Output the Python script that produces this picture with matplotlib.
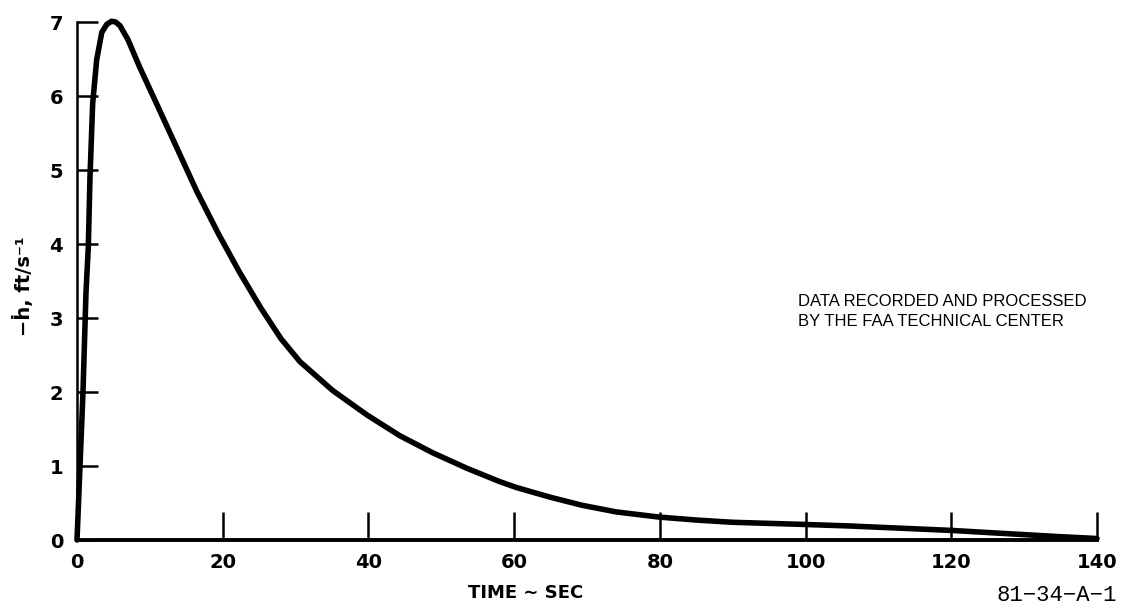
import matplotlib
matplotlib.use('Agg')
import matplotlib.pyplot as plt

# Data
time_sec = [0, 0.41, 0.82, 1.23, 1.55, 1.78, 2.15, 2.7, 3.4, 4.1, 4.75, 5.3, 5.9,
            7.0, 8.6, 10.9, 13.7, 16.4, 19.4, 22.3, 25.2, 28.0, 30.6, 35.1,
            39.8, 44.3, 48.8, 53.5, 58.0, 60.3, 64.9, 69.3, 74.0, 79.9, 85.0,
            89.9, 100, 106, 120, 134, 140]
sink_rate = [0, 1.0, 2.0, 3.34, 3.96, 4.9, 5.9, 6.49, 6.86, 6.97, 7.01, 7.0, 6.95,
             6.76, 6.39, 5.9, 5.3, 4.72, 4.14, 3.62, 3.14, 2.72, 2.41, 2.02,
             1.69, 1.41, 1.18, 0.97, 0.79, 0.71, 0.58, 0.47, 0.38, 0.31, 0.27,
             0.24, 0.21, 0.19, 0.13, 0.05, 0.02]
x_ticks = [0, 20, 40, 60, 80, 100, 120, 140]
y_ticks = [0, 1, 2, 3, 4, 5, 6, 7]

fig = plt.figure(figsize=(11.21, 6.08), dpi=100)
ax = fig.add_axes([0.0687, 0.1118, 0.9099, 0.852])

ax.plot(time_sec, sink_rate, color='black', linewidth=4.0, solid_capstyle='round',
        solid_joinstyle='round', clip_on=False)

ax.set_xlim(0, 140)
ax.set_ylim(0, 7)

for side in ['top', 'right']:
    ax.spines[side].set_visible(False)
ax.spines['left'].set_linewidth(1.8)
ax.spines['bottom'].set_linewidth(2.8)

ax.set_xticks(x_ticks)
ax.set_yticks(y_ticks)
ax.set_xticklabels([str(v) for v in x_ticks])
ax.set_yticklabels([str(v) for v in y_ticks])
ax.tick_params(axis='x', direction='in', length=20, width=1.8, pad=9,
               labelsize=14)
ax.tick_params(axis='y', direction='in', length=15, width=1.8, pad=10,
               labelsize=14)
for lbl in ax.get_xticklabels() + ax.get_yticklabels():
    lbl.set_fontweight('bold')

ax.set_xlabel('TIME ∼ SEC', fontsize=13, fontweight='bold')
ax.xaxis.set_label_coords(0.44, -0.085)
ax.set_ylabel('−ḣ, ft/s⁻¹', fontsize=14, fontweight='bold')
ax.yaxis.set_label_coords(-0.042, 0.49)

ax.text(0.712, 0.516, 'DATA RECORDED AND PROCESSED\nBY THE FAA TECHNICAL CENTER',
        transform=fig.transFigure, fontsize=12, family='Liberation Sans',
        linespacing=1.4, va='top', ha='left')

fig.text(0.996, 0.004, '81−34−A−1', fontsize=16, family='Liberation Mono',
         ha='right', va='bottom')

fig.savefig('out.png', dpi=100)
